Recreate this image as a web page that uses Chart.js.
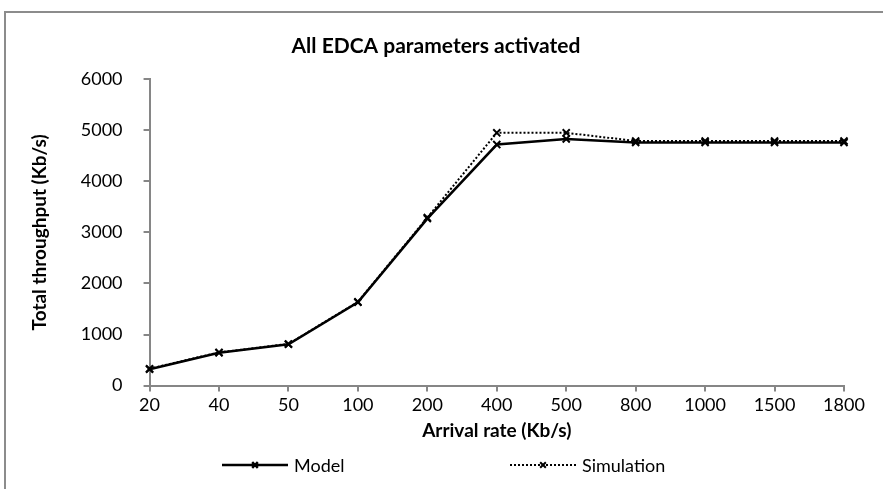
<!DOCTYPE html>
<html>
<head>
<meta charset="utf-8">
<script src="https://cdn.jsdelivr.net/npm/chart.js@4/dist/chart.umd.min.js"></script>
<style>
    html, body { margin: 0; padding: 0; background: #fff; overflow: hidden; }
    #wrap { position: relative; width: 883px; height: 489px; }
    #frame { position: absolute; left: 4px; top: 11px; width: 1000px; height: 1000px;
             border-left: 2px solid #8c8c8c; border-top: 2px solid #8c8c8c; pointer-events: none; }
</style>
</head>
<body>
<div id="wrap">
    <canvas id="chart" width="883" height="489"></canvas>
    <div id="frame"></div>
</div>
<script>
const rates = ['20', '40', '50', '100', '200', '400', '500', '800', '1000', '1500', '1800'];
const model = [320, 645, 810, 1630, 3270, 4720, 4830, 4760, 4760, 4760, 4760];
const simulation = [330, 650, 815, 1640, 3290, 4950, 4950, 4790, 4790, 4790, 4790];
const yTicks = [0, 1000, 2000, 3000, 4000, 5000, 6000];

const FONT = 'Lato, "Open Sans", sans-serif';
const axisGray = '#868686';

// legend drawn by hand so the two entries can sit far apart like the original
const bottomLegend = {
    id: 'bottomLegend',
    afterDraw(chart) {
        const ctx = chart.ctx;
        const y = 465;
        const starts = [222, 510];
        ctx.save();
        chart.data.datasets.forEach((ds, i) => {
            const x0 = starts[i];
            ctx.strokeStyle = ds.borderColor;
            ctx.lineWidth = ds.borderWidth;
            ctx.setLineDash(ds.borderDash || []);
            ctx.beginPath();
            ctx.moveTo(x0, y);
            ctx.lineTo(x0 + 66, y);
            ctx.stroke();
            ctx.setLineDash([]);
            Chart.helpers.drawPoint(ctx, {
                pointStyle: 'crossRot', radius: 4, borderWidth: 2
            }, x0 + 33, y);
            ctx.fillStyle = '#000';
            ctx.font = '18px ' + FONT;
            ctx.textBaseline = 'middle';
            ctx.fillText(ds.label, x0 + 72, y + 1);
        });
        ctx.restore();
    }
};

new Chart(document.getElementById('chart'), {
    type: 'line',
    data: {
        labels: rates,
        datasets: [{
            label: 'Model',
            data: model,
            borderColor: '#000',
            borderWidth: 2.5,
            pointStyle: 'crossRot',
            pointRadius: 5,
            pointBorderWidth: 2,
            pointBorderColor: '#000',
            tension: 0,
            order: 2
        }, {
            label: 'Simulation',
            data: simulation,
            borderColor: '#000',
            borderWidth: 2,
            borderDash: [2, 2],
            pointStyle: 'crossRot',
            pointRadius: 5,
            pointBorderWidth: 2,
            pointBorderColor: '#000',
            tension: 0,
            order: 1
        }]
    },
    options: {
        responsive: false,
        animation: false,
        layout: { padding: { left: 28, right: 39, top: 34, bottom: 47 } },
        plugins: {
            legend: { display: false },
            tooltip: { enabled: false },
            title: {
                display: true,
                text: 'All EDCA parameters activated',
                color: '#000',
                font: { family: FONT, size: 21, weight: 'bold' },
                padding: { top: 0, bottom: 20 }
            }
        },
        scales: {
            x: {
                offset: false,
                grid: { drawOnChartArea: false, drawTicks: true, tickLength: 6, color: axisGray, lineWidth: 2 },
                border: { color: axisGray, width: 2 },
                ticks: { color: '#000', font: { family: FONT, size: 18 }, padding: 3, maxRotation: 0 },
                title: {
                    display: true,
                    text: 'Arrival rate (Kb/s)',
                    color: '#000',
                    font: { family: FONT, size: 19, weight: 'bold' },
                    padding: { top: 0, bottom: 0 }
                }
            },
            y: {
                min: 0,
                max: 6000,
                afterBuildTicks: axis => { axis.ticks = yTicks.map(v => ({ value: v })); },
                grid: { drawOnChartArea: false, drawTicks: true, tickLength: 6, color: axisGray, lineWidth: 2 },
                border: { color: axisGray, width: 2 },
                ticks: {
                    color: '#000',
                    font: { family: FONT, size: 18 },
                    padding: 21,
                    callback: v => String(v)
                },
                title: {
                    display: true,
                    text: 'Total throughput (Kb/s)',
                    color: '#000',
                    font: { family: FONT, size: 19, weight: 'bold' },
                    padding: { top: 0, bottom: 9 }
                }
            }
        }
    },
    plugins: [bottomLegend]
});
</script>
</body>
</html>
